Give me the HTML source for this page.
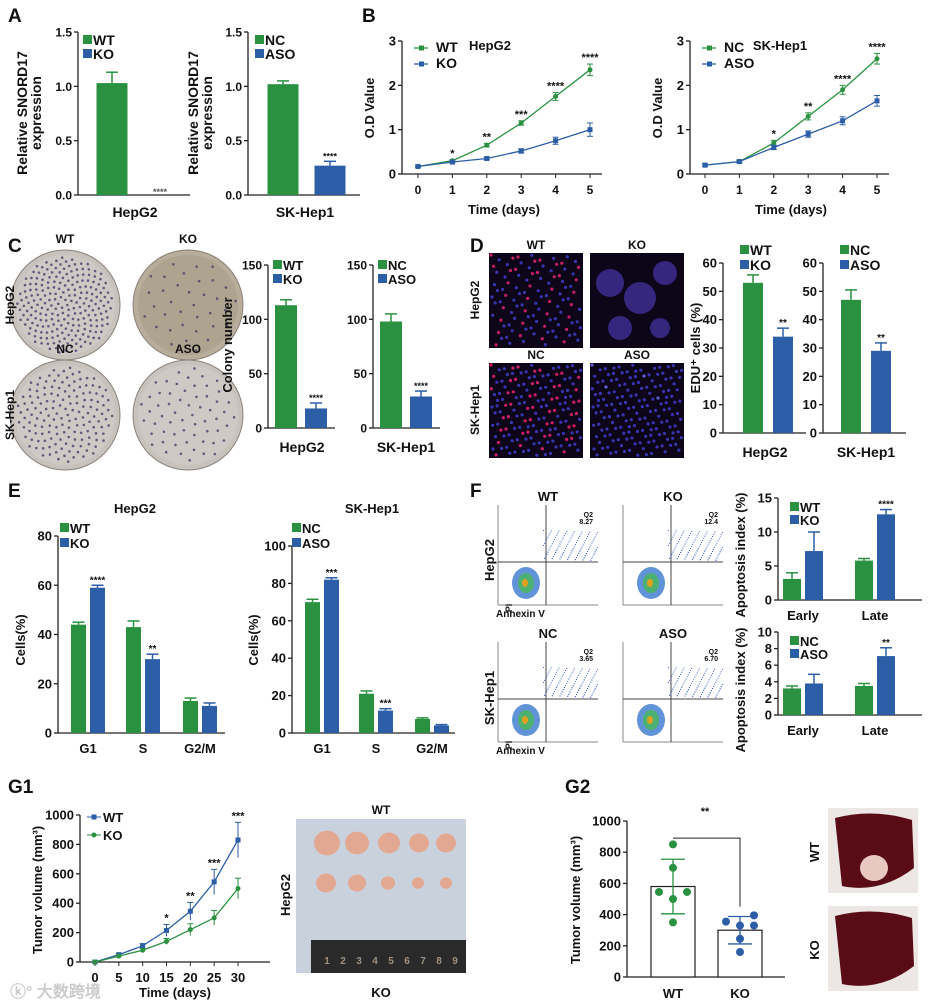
<!DOCTYPE html>
<html><head><meta charset="utf-8"><style>
body{margin:0;background:#fff;}
svg{display:block;font-family:"Liberation Sans",Arial,sans-serif;font-weight:bold;}
</style></head><body>
<svg id="fig" width="932" height="1005" viewBox="0 0 932 1005" xmlns="http://www.w3.org/2000/svg"></svg>
<script>
// ---- data ----
const aCats1=["WT","KO"]; const aVals1=[1.03,0.0]; const aErr1=[0.1,0];
const aCats2=["NC","ASO"]; const aVals2=[1.02,0.27]; const aErr2=[0.03,0.04];
const aTicks=[0,0.5,1.0,1.5]; const aTickLabels=["0.0","0.5","1.0","1.5"];
const bDays=[0,1,2,3,4,5]; const bTicks=[0,1,2,3];
const bWT=[0.17,0.3,0.65,1.15,1.75,2.35]; const bKO=[0.17,0.27,0.35,0.52,0.75,1.0];
const bWTerr=[0.02,0.02,0.04,0.05,0.09,0.13]; const bKOerr=[0.02,0.02,0.03,0.05,0.08,0.15];
const bNC=[0.2,0.28,0.7,1.3,1.9,2.6]; const bASO=[0.2,0.28,0.6,0.9,1.2,1.65];
const bNCerr=[0.03,0.03,0.06,0.08,0.1,0.12]; const bASOerr=[0.03,0.03,0.05,0.07,0.09,0.12];
const bStars1=["","*","**","***","****","****"]; const bStars2=["","","*","**","****","****"];
const cTicks=[0,50,100,150]; const cVals1=[113,18]; const cErr1=[5,5]; const cVals2=[98,29]; const cErr2=[7,5];
const dTicks=[0,10,20,30,40,50,60]; const dVals1=[53,34]; const dErr1=[2.8,3]; const dVals2=[47,29]; const dErr2=[3.5,2.8];
const eGroups=["G1","S","G2/M"];
const eWT=[44,43,13]; const eKO=[59,30,11]; const eWTerr=[1,2.5,1.2]; const eKOerr=[1,2,1.2];
const eStars1=["****","**",""];
const eNC=[70,21,7.5]; const eASO=[82,12,4]; const eNCerr=[1.5,1.5,0.6]; const eASOerr=[1,1,0.5];
const eStars2=["***","***",""];
const eTicks1=[0,20,40,60,80]; const eTicks2=[0,20,40,60,80,100];
const fGroups=["Early","Late"];
const fWT=[3.1,5.8]; const fKO=[7.2,12.6]; const fWTerr=[0.9,0.3]; const fKOerr=[2.8,0.7];
const fNC=[3.2,3.5]; const fASO=[3.8,7.1]; const fNCerr=[0.3,0.3]; const fASOerr=[1.1,1.0];
const fTicks1=[0,5,10,15]; const fTicks2=[0,2,4,6,8,10];
const gDays=[0,5,10,15,20,25,30];
const gWT=[0,50,110,215,345,545,830]; const gKO=[0,40,80,140,220,300,500];
const gWTerr=[5,8,15,40,60,85,120]; const gKOerr=[5,8,12,20,40,50,70];
const gStars=["","","","*","**","***","***"]; const gTicks=[0,200,400,600,800,1000];
const g2Means=[580,300]; const g2SD=[175,88];
const g2WTpts=[850,700,545,545,500,350]; const g2KOpts=[395,355,330,330,245,160];

const GREEN="#2a9140", BLUE="#2c5ea8";
const svg=document.getElementById('fig');
function el(tag,attrs,parent){const e=document.createElementNS("http://www.w3.org/2000/svg",tag);for(const k in attrs)e.setAttribute(k,attrs[k]);(parent||svg).appendChild(e);return e;}
function txt(x,y,s,size,opt){opt=opt||{};const t=el('text',{x:x,y:y,'font-size':size,'text-anchor':opt.anchor||'middle',fill:opt.fill||'#111'});if(opt.rot)t.setAttribute('transform','rotate(-90 '+x+' '+y+')');t.textContent=s;return t;}
function lin(y0px,y1px,v0,v1){return v=>y0px+(v-v0)*(y1px-y0px)/(v1-v0);}
function yAxis(x,y,ticks,labels,size){el('line',{x1:x,y1:y(ticks[0]),x2:x,y2:y(ticks[ticks.length-1]),stroke:'#222','stroke-width':1.3});ticks.forEach((t,i)=>{el('line',{x1:x-4,y1:y(t),x2:x,y2:y(t),stroke:'#222','stroke-width':1.3});txt(x-6,y(t)+4.5,labels?labels[i]:String(t),size||13,{anchor:'end'});});}
function errBar(cx,yTop,yErr,color){el('line',{x1:cx,y1:yTop,x2:cx,y2:yErr,stroke:color,'stroke-width':1.5});el('line',{x1:cx-6,y1:yErr,x2:cx+6,y2:yErr,stroke:color,'stroke-width':1.5});}
function bar(name,cx,w,v,e,y,color){const r=el('rect',{x:cx-w/2,y:y(v),width:w,height:y(0)-y(v),fill:color});


if(e>0)errBar(cx,y(v),y(v+e),color);}
function legend(x,y,labels,gap,size,style){labels.forEach((l,i)=>{const c=i==0?GREEN:BLUE;if(style=='line'){el('line',{x1:x,y1:y+i*gap-4,x2:x+14,y2:y+i*gap-4,stroke:c,'stroke-width':1.3});el('rect',{x:x+5,y:y+i*gap-6.5,width:5,height:5,fill:c});}else el('rect',{x:x,y:y+i*gap-10,width:9,height:9,fill:c});const t=txt(x+(style=='line'?22:10),y+i*gap,l,size||14,{anchor:'start'});});}
function label(x,y,s){txt(x,y,s,19,{anchor:'start'});}

// ---- panel labels ----
label(8,22,"A");label(362,22,"B");label(8,252,"C");label(470,252,"D");label(8,497,"E");label(470,497,"F");label(8,793,"G1");label(565,793,"G2");

// ---- A ----
(function(){const y=lin(195,32,0,1.5);
yAxis(78,y,aTicks,aTickLabels,12);el('line',{x1:78,y1:195,x2:190,y2:195,stroke:'#222','stroke-width':1.3});
bar('bar-a-wt',112,31,aVals1[0],aErr1[0],y,GREEN);bar('bar-a-ko',157,31,aVals1[1],aErr1[1],y,BLUE);txt(160,195,"****",9,{fill:'#555'});
legend(83,45,aCats1,14,14);txt(135,217,"HepG2",14);
txt(27,113,"Relative SNORD17",14,{rot:1});txt(41,113,"expression",14,{rot:1});
const x2=248;yAxis(x2,y,aTicks,aTickLabels,12);el('line',{x1:x2,y1:195,x2:360,y2:195,stroke:'#222','stroke-width':1.3});
bar('bar-a-nc',283,31,aVals2[0],aErr2[0],y,GREEN);bar('bar-a-aso',330,31,aVals2[1],aErr2[1],y,BLUE);txt(330,y(aVals2[1]+aErr2[1])-2,"****",9);
legend(255,45,aCats2,14,14);txt(305,217,"SK-Hep1",14);
txt(198,113,"Relative SNORD17",14,{rot:1});txt(212,113,"expression",14,{rot:1});})();

// ---- B ----
function lineChart(x0,x1px,yAx,s1,s2,e1,e2,stars,names,title,tx){const x=lin(x0,x1px,0,5);const y=lin(174,41,0,3);
yAxis(yAx,y,bTicks,null,13);el('line',{x1:yAx,y1:174,x2:x1px+12,y2:174,stroke:'#222','stroke-width':1.3});
bDays.forEach(d=>{el('line',{x1:x(d),y1:174,x2:x(d),y2:178,stroke:'#222'});txt(x(d),194,String(d),12);});
[[s1,e1,GREEN],[s2,e2,BLUE]].forEach(([s,e,c],k)=>{const p=el('polyline',{points:s.map((v,i)=>x(bDays[i])+','+y(v)).join(' '),fill:'none',stroke:c,'stroke-width':1.3});


s.forEach((v,i)=>{el('line',{x1:x(bDays[i]),y1:y(v-e[i]),x2:x(bDays[i]),y2:y(v+e[i]),stroke:c,'stroke-width':1});el('line',{x1:x(bDays[i])-3,y1:y(v+e[i]),x2:x(bDays[i])+3,y2:y(v+e[i]),stroke:c});el('line',{x1:x(bDays[i])-3,y1:y(v-e[i]),x2:x(bDays[i])+3,y2:y(v-e[i]),stroke:c});el(k?'rect':'circle',k?{x:x(bDays[i])-2.5,y:y(v)-2.5,width:5,height:5,fill:c}:{cx:x(bDays[i]),cy:y(v),r:2.5,fill:c});});});
s1.forEach((v,i)=>{if(stars[i])txt(x(bDays[i]),y(Math.max(v,s2[i])+e1[i])-3,stars[i],11);});
legend(yAx+12,52,names,16,14,'line');txt(tx,50,title,13);txt((x0+x1px)/2,214,"Time (days)",13);txt(yAx-28,108,"O.D Value",13,{rot:1});}
lineChart(418,590,402,bWT,bKO,bWTerr,bKOerr,bStars1,["WT","KO"],"HepG2",490);
lineChart(705,877,690,bNC,bASO,bNCerr,bASOerr,bStars2,["NC","ASO"],"SK-Hep1",780);

// ---- C plates ----
[[65,305,"WT","HepG2"],[188,305,"KO",""],[65,415,"NC","SK-Hep1"],[188,415,"ASO",""]].forEach(([cx,cy,l,row],i)=>{const g=el('g',{});


el('circle',{cx:cx,cy:cy,r:55,fill:i==1?'#b8ad9a':'#c8c2bd',stroke:'#8a8278','stroke-width':1},g);el('circle',{cx:cx,cy:cy,r:50,fill:i==1?'#aea38f':'#cfc9c6'},g);
const n=[220,35,150,60][i];for(let k=0;k<n;k++){const a=k*2.39996,r=48*Math.sqrt((k+0.5)/n);el('circle',{cx:cx+r*Math.cos(a),cy:cy+r*Math.sin(a),r:1.3,fill:'#4a3d6a',opacity:0.8},g);}
txt(cx,cy-62,l,12);if(row)txt(14,cy,row,12,{rot:1});});
(function(){const y=lin(428,265,0,150);const o=10;
yAxis(258+o,y,cTicks,null,12);el('line',{x1:258+o,y1:428,x2:325+o,y2:428,stroke:'#222','stroke-width':1.3});
bar('bar-c-wt',276+o,22,cVals1[0],cErr1[0],y,GREEN);bar('bar-c-ko',306+o,22,cVals1[1],cErr1[1],y,BLUE);txt(306+o,y(cVals1[1]+cErr1[1])-2,"****",9);
legend(263+o,270,["WT","KO"],14,13);txt(292+o,452,"HepG2",14);txt(232,345,"Colony number",13,{rot:1});
yAxis(363+o,y,cTicks,null,12);el('line',{x1:363+o,y1:428,x2:430+o,y2:428,stroke:'#222','stroke-width':1.3});
bar('bar-c-nc',381+o,22,cVals2[0],cErr2[0],y,GREEN);bar('bar-c-aso',411+o,22,cVals2[1],cErr2[1],y,BLUE);txt(411+o,y(cVals2[1]+cErr2[1])-2,"****",9);
legend(368+o,270,["NC","ASO"],14,13);txt(396+o,452,"SK-Hep1",14);})();

// ---- D images ----
[[489,253,"WT",'#d8206a',1],[590,253,"KO",'#5a50c8',2],[489,363,"NC",'#e0206a',3],[590,363,"ASO",'#6a6ae8',4]].forEach(([x,y,l,c,i])=>{const g=el('g',{});


el('rect',{x:x,y:y,width:94,height:95,fill:'#0c0618'},g);
if(i==2){[[20,30,14],[50,45,16],[75,20,12],[30,75,12],[70,75,10]].forEach(([a,b,r])=>el('circle',{cx:x+a,cy:y+b,r:r,fill:'#3a2a8a',opacity:0.9},g));}
else{const n=i>2?160:110;for(let k=0;k<n;k++){const px=(k*37.3)%90+2,py=(k*61.7)%91+2;el('circle',{cx:x+px,cy:y+py,r:1.6,fill:(k%(i==4?40:3)==0)?c:'#3d3ac0',opacity:0.9},g);}}
txt(x+47,y-4,l,12);});
txt(479,300,"HepG2",12,{rot:1});txt(479,410,"SK-Hep1",12,{rot:1});
(function(){const y=lin(433,263,0,60);
yAxis(723,y,dTicks,null,13);el('line',{x1:723,y1:433,x2:806,y2:433,stroke:'#222','stroke-width':1.3});
bar('bar-d-wt',753,20,dVals1[0],dErr1[0],y,GREEN);bar('bar-d-ko',783,20,dVals1[1],dErr1[1],y,BLUE);txt(783,y(dVals1[1]+dErr1[1])-2,"**",10);
legend(740,255,["WT","KO"],15,14);txt(765,457,"HepG2",14);txt(700,348,"EDU\u207A cells (%)",13,{rot:1});
yAxis(823,y,dTicks,null,13);el('line',{x1:823,y1:433,x2:906,y2:433,stroke:'#222','stroke-width':1.3});
bar('bar-d-nc',851,20,dVals2[0],dErr2[0],y,GREEN);bar('bar-d-aso',881,20,dVals2[1],dErr2[1],y,BLUE);txt(881,y(dVals2[1]+dErr2[1])-2,"**",10);
legend(840,255,["NC","ASO"],15,14);txt(866,457,"SK-Hep1",14);})();

// ---- E ----
function groupBars(pref,ax,xEnd,y,ticks,centers,s1,s2,e1,e2,stars,groups,bw){yAxis(ax,y,ticks,null,13);el('line',{x1:ax,y1:y(0),x2:xEnd,y2:y(0),stroke:'#222','stroke-width':1.3});
groups.forEach((g,i)=>{bar('bar-'+pref+'-'+g.toLowerCase().replace('/','')+'-1',centers[i]-bw/2-2,bw,s1[i],e1[i],y,GREEN);bar('bar-'+pref+'-'+g.toLowerCase().replace('/','')+'-2',centers[i]+bw/2+2,bw,s2[i],e2[i],y,BLUE);
if(stars[i])txt(centers[i]+bw/2+2,y(s2[i]+e2[i])-2,stars[i],10);txt(centers[i],y(0)+20,g,13);});}
(function(){const y=lin(733,536,0,80);groupBars('e1',58,225,y,eTicks1,[88,143,200],eWT,eKO,eWTerr,eKOerr,eStars1,eGroups,15);
legend(60,533,["WT","KO"],15,13);txt(135,513,"HepG2",13);txt(25,640,"Cells(%)",13,{rot:1});
const y2=lin(733,546,0,100);groupBars('e2',292,455,y2,eTicks2,[322,376,432],eNC,eASO,eNCerr,eASOerr,eStars2,eGroups,15);
legend(292,533,["NC","ASO"],15,13);txt(372,513,"SK-Hep1",13);txt(258,640,"Cells(%)",13,{rot:1});})();

// ---- F flow ----
[[498,505,"WT"],[623,505,"KO"],[498,642,"NC"],[623,642,"ASO"]].forEach(([x,y,l],i)=>{const g=el('g',{});


el('line',{x1:x,y1:y,x2:x,y2:y+100,stroke:'#888'},g);el('line',{x1:x,y1:y+100,x2:x+100,y2:y+100,stroke:'#888'},g);
el('line',{x1:x+48,y1:y,x2:x+48,y2:y+100,stroke:'#444'},g);el('line',{x1:x,y1:y+57,x2:x+100,y2:y+57,stroke:'#444'},g);
for(let k=0;k<140;k++){const px=(k*47.3)%55+45,py=(k*29.7)%30+25;el('rect',{x:x+px,y:y+py,width:1,height:1,fill:'#4466cc'},g);}
el('ellipse',{cx:x+28,cy:y+78,rx:14,ry:16,fill:'#3a78d0',opacity:0.8},g);el('ellipse',{cx:x+28,cy:y+78,rx:8,ry:10,fill:'#4cb070'},g);el('ellipse',{cx:x+27,cy:y+78,rx:3,ry:4,fill:'#e0a020'},g);
txt(x+50,y-4,l,13);txt(x+95,y+12,"Q2",7,{anchor:'end'});txt(x+95,y+19,["8.27","12.4","3.65","6.70"][i],7,{anchor:'end'});});
txt(494,560,"HepG2",13,{rot:1});txt(494,698,"SK-Hep1",13,{rot:1});
txt(512,608,"PI",9,{rot:1});txt(512,745,"PI",9,{rot:1});txt(496,617,"Annexin V",10,{anchor:'start'});txt(496,754,"Annexin V",10,{anchor:'start'});
(function(){const y=lin(600,498,0,15);groupBars('f1',778,922,y,fTicks1,[803,875],fWT,fKO,fWTerr,fKOerr,["","****"],fGroups,18);
legend(790,512,["WT","KO"],13,13);txt(745,555,"Apoptosis index (%)",13,{rot:1});
const y2=lin(715,632,0,10);groupBars('f2',778,922,y2,fTicks2,[803,875],fNC,fASO,fNCerr,fASOerr,["","**"],fGroups,18);
legend(790,646,["NC","ASO"],13,13);txt(745,690,"Apoptosis index (%)",13,{rot:1});})();

// ---- G1 ----
(function(){const x=lin(95,238,0,30),y=lin(962,815,0,1000);
yAxis(80,y,gTicks,null,13);el('line',{x1:80,y1:962,x2:270,y2:962,stroke:'#222','stroke-width':1.3});
gDays.forEach(d=>{el('line',{x1:x(d),y1:962,x2:x(d),y2:966,stroke:'#222'});txt(x(d),982,String(d),13);});
[[gWT,gWTerr,BLUE,'rect','wt'],[gKO,gKOerr,GREEN,'circle','ko']].forEach(([s,e,c,m,n])=>{const p=el('polyline',{points:s.map((v,i)=>x(gDays[i])+','+y(v)).join(' '),fill:'none',stroke:c,'stroke-width':1.3});


s.forEach((v,i)=>{el('line',{x1:x(gDays[i]),y1:y(v-e[i]),x2:x(gDays[i]),y2:y(v+e[i]),stroke:c});el('line',{x1:x(gDays[i])-3,y1:y(v+e[i]),x2:x(gDays[i])+3,y2:y(v+e[i]),stroke:c});el(m,m=='rect'?{x:x(gDays[i])-2.5,y:y(v)-2.5,width:5,height:5,fill:c}:{cx:x(gDays[i]),cy:y(v),r:2.5,fill:c});});});
gStars.forEach((s,i)=>{if(s)txt(x(gDays[i]),y(gWT[i]+gWTerr[i])-3,s,11);});
el('line',{x1:87,y1:817,x2:101,y2:817,stroke:BLUE});el('rect',{x:91.5,y:814.5,width:5,height:5,fill:BLUE});txt(103,822,"WT",13,{anchor:'start'});
el('line',{x1:87,y1:835,x2:101,y2:835,stroke:GREEN});el('circle',{cx:94,cy:835,r:2.5,fill:GREEN});txt(103,840,"KO",13,{anchor:'start'});
txt(175,997,"Time (days)",13);txt(42,890,"Tumor  volume (mm\u00B3)",13,{rot:1});
txt(10,997,"\u24DA\u00B0 \u5927\u6570\u8de8\u5883",16,{anchor:'start',fill:'#ccc'});})();
// photo
(function(){const g=el('g',{});


el('rect',{x:296,y:819,width:170,height:154,fill:'#c9d2dc'},g);el('rect',{x:311,y:940,width:155,height:33,fill:'#2a2a2a'},g);
for(let k=1;k<=9;k++)txt(311+k*16,964,String(k),10,{fill:'#a09080'});
[[327,843,13],[357,843,12],[389,843,11],[419,843,10],[446,843,10],[326,883,10],[357,883,9],[388,883,7],[418,883,6],[446,883,6]].forEach(([cx,cy,r])=>el('ellipse',{cx:cx,cy:cy,rx:r,ry:r*0.95,fill:'#e3a892'},g));
txt(381,814,"WT",12);txt(381,997,"KO",13);txt(290,895,"HepG2",13,{rot:1});})();

// ---- G2 ----
(function(){const y=lin(977,821,0,1000);
yAxis(627,y,gTicks,null,13);el('line',{x1:627,y1:977,x2:785,y2:977,stroke:'#222','stroke-width':1.3});
const cx=[673,740];
[0,1].forEach(i=>{const r=el('rect',{x:cx[i]-22,y:y(g2Means[i]),width:44,height:977-y(g2Means[i]),fill:'#fff',stroke:'#222','stroke-width':1.2});


const c=i?BLUE:GREEN;el('line',{x1:cx[i],y1:y(g2Means[i]-g2SD[i]),x2:cx[i],y2:y(g2Means[i]+g2SD[i]),stroke:c,'stroke-width':1.3});
el('line',{x1:cx[i]-12,y1:y(g2Means[i]+g2SD[i]),x2:cx[i]+12,y2:y(g2Means[i]+g2SD[i]),stroke:c,'stroke-width':1.3});el('line',{x1:cx[i]-12,y1:y(g2Means[i]-g2SD[i]),x2:cx[i]+12,y2:y(g2Means[i]-g2SD[i]),stroke:c,'stroke-width':1.3});
const pts=i?g2KOpts:g2WTpts;const off2=i?[14,-14,0,14,0,0]:[0,0,-14,14,0,0];
pts.forEach((v,k)=>el('circle',{cx:cx[i]+off2[k],cy:y(v),r:4,fill:c}));txt(cx[i],998,i?"KO":"WT",13);});
el('polyline',{points:cx[0]+','+y(890)+' '+cx[1]+','+y(890)+' '+cx[1]+','+y(450),fill:'none',stroke:'#222'});
txt(705,815,"**",11);txt(580,900,"Tumor volume (mm\u00B3)",13,{rot:1});
[[808,"WT"],[906,"KO"]].forEach(([yy,l])=>{const g=el('g',{});


el('rect',{x:828,y:yy,width:90,height:85,fill:'#ece6e4'},g);el('path',{d:`M${835},${yy+10} Q873,${yy} 912,${yy+12} L914,${yy+60} Q880,${yy+86} 842,${yy+78} Z`,fill:'#5a0c16'},g);
if(l=='WT')el('ellipse',{cx:874,cy:yy+60,rx:14,ry:13,fill:'#e8c8c0'},g);
txt(819,yy+44,l,13,{rot:1});});})();
</script>
</body></html>
